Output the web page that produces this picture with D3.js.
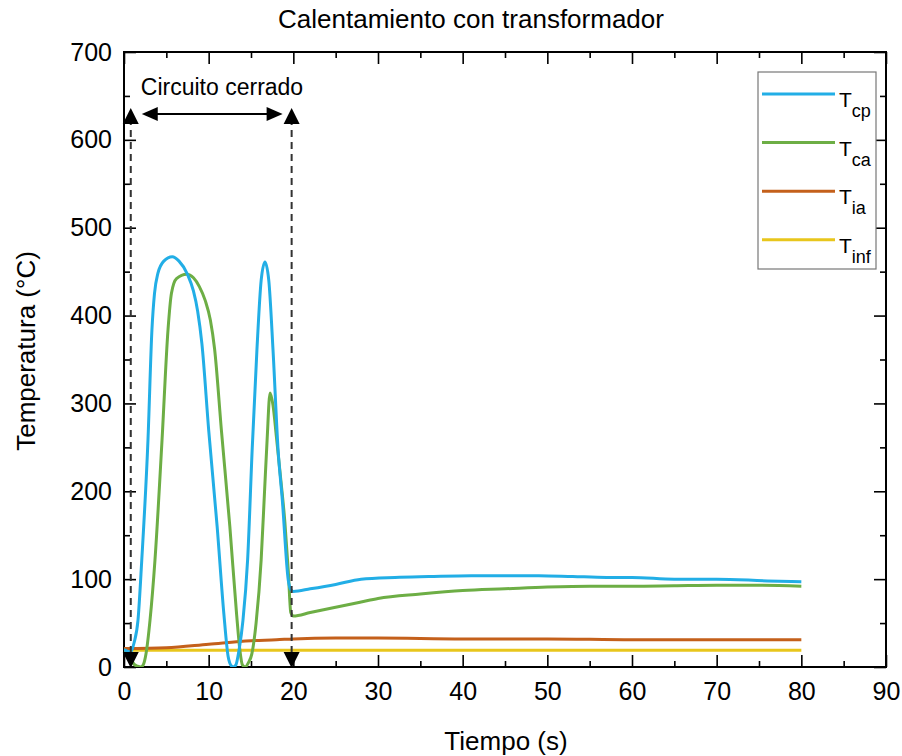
<!DOCTYPE html>
<html><head><meta charset="utf-8">
<script src="https://cdn.jsdelivr.net/npm/d3@7"></script>
<style>
html,body{margin:0;padding:0;background:#fff;}
svg text{font-family:"Liberation Sans",Arial,sans-serif;fill:#000;}
</style></head>
<body><svg id="c" width="902" height="756"></svg>
<script>
// ---- data ----
const title = "Calentamiento con transformador";
const xLabel = "Tiempo (s)";
const yLabel = "Temperatura (°C)";
const xTicks = [0,10,20,30,40,50,60,70,80,90];
const yTicks = [0,100,200,300,400,500,600,700];
const annotText = "Circuito cerrado";
const circuitStart = 0.8, circuitEnd = 19.8, arrowTemp = 625;

const tCp = [0,0.8,1.2,1.65,2.1,2.83,3.3,3.6,4.0,4.7,5.7,6.5,7.5,8.2,8.7,9.2,10.0,11.0,11.8,12.3,12.7,12.9,13.2,13.6,14.05,14.6,15.15,15.7,16.2,16.65,17.1,17.6,18.2,18.7,19.4,19.7,20,22,25,28,32,36,41,49,53,57,60,65,70,76,80];
const vCp = [20,17,28,53,122,258,384,425,448,462,467,462,447,428,405,368,270,160,60,12,1,0,2,20,53,122,250,361,440,461,440,361,247,190,99,88,86,89,94,100,102,103,104,104,103,102,102,100,100,98,97];

const tCa = [0,0.8,1.2,1.6,2.0,2.3,2.6,3.07,3.66,4.49,5.2,5.6,6.2,7.4,8.2,8.9,9.6,10.2,10.7,11.5,12.5,13.3,13.7,14.0,14.3,14.7,15.1,15.6,16.2,16.6,16.9,17.25,17.6,18.0,18.5,19.0,19.4,19.7,20,22,25,28,30,35,40,45,50,55,60,65,70,75,80];
const vCa = [20,10,3,1,0,3,15,53,122,258,384,425,442,447,443,433,417,395,362,270,160,60,18,2,0,5,15,50,122,200,258,312,298,262,215,165,110,62,58,62,68,74,78,83,87,89,91,92,92,92.5,93,93,92];

const tIa = [0,5,10,15,18,20,25,30,40,50,60,70,80];
const vIa = [21,22,26,30,31,32,33,33,32,32,31,31,31];

const tInf = [0,20,40,60,80];
const vInf = [19,19,19,19,19];

const seriesNames = ["cp","ca","ia","inf"];
const seriesColors = ["#22AEE6","#6DAE45","#C4601B","#E8C61C"];

// ---- layout ----
const svg = d3.select("#c");
const L = 124, R = 886, T = 52, B = 667;
const x = d3.scaleLinear().domain([0,90]).range([L,R]);
const y = d3.scaleLinear().domain([0,700]).range([B,T]);

const xMinor = d3.range(0,91,5).filter(v=>v%10!==0);
const yMinor = d3.range(0,701,50).filter(v=>v%100!==0);

function styleAxis(g){ g.select(".domain").remove(); g.selectAll("line").attr("stroke","#000").attr("stroke-width",1.6); }

// bottom
svg.append("g").attr("transform",`translate(0,${B})`)
  .call(d3.axisBottom(x).tickValues(xTicks).tickSize(-12).tickPadding(15).tickFormat(d3.format("d")))
  .call(styleAxis).selectAll("text").attr("font-size",25).attr("font-family","Liberation Sans, Arial");
svg.append("g").attr("transform",`translate(0,${B})`)
  .call(d3.axisBottom(x).tickValues(xMinor).tickSize(-6).tickFormat("")).call(styleAxis);
// top
svg.append("g").attr("transform",`translate(0,${T})`)
  .call(d3.axisTop(x).tickValues(xTicks).tickSize(-12).tickFormat("")).call(styleAxis);
svg.append("g").attr("transform",`translate(0,${T})`)
  .call(d3.axisTop(x).tickValues(xMinor).tickSize(-6).tickFormat("")).call(styleAxis);
// left
svg.append("g").attr("transform",`translate(${L},0)`)
  .call(d3.axisLeft(y).tickValues(yTicks).tickSize(-12).tickPadding(12).tickFormat(d3.format("d")))
  .call(styleAxis).selectAll("text").attr("font-size",25).attr("font-family","Liberation Sans, Arial");
svg.append("g").attr("transform",`translate(${L},0)`)
  .call(d3.axisLeft(y).tickValues(yMinor).tickSize(-6).tickFormat("")).call(styleAxis);
// right
svg.append("g").attr("transform",`translate(${R},0)`)
  .call(d3.axisRight(y).tickValues(yTicks).tickSize(-12).tickFormat("")).call(styleAxis);
svg.append("g").attr("transform",`translate(${R},0)`)
  .call(d3.axisRight(y).tickValues(yMinor).tickSize(-6).tickFormat("")).call(styleAxis);

// frame
svg.append("rect").attr("x",L).attr("y",T).attr("width",R-L).attr("height",B-T)
  .attr("fill","none").attr("stroke","#000").attr("stroke-width",2);

// series
svg.append("clipPath").attr("id","clp").append("rect")
  .attr("x",L).attr("y",T).attr("width",R-L).attr("height",B-T);
const line = d3.line().x(d=>x(d[0])).y(d=>y(d[1])).curve(d3.curveMonotoneX);
const data = [[tInf,vInf],[tIa,vIa],[tCa,vCa],[tCp,vCp]];
const colorIdx = [3,2,1,0];
data.forEach((s,i)=>{
  const pts = s[0].map((t,j)=>[t,s[1][j]]);
  svg.append("path").attr("d",line(pts)).attr("fill","none")
    .attr("stroke",seriesColors[colorIdx[i]]).attr("stroke-width",3)
    .attr("stroke-linejoin","round").attr("clip-path","url(#clp)");
});

// annotation: dashed lines + arrows
const ann = svg.append("g");
[circuitStart, circuitEnd].forEach(t=>{
  const xx = x(t);
  ann.append("line").attr("x1",xx).attr("x2",xx).attr("y1",y(arrowTemp)).attr("y2",B-8)
    .attr("stroke","#333").attr("stroke-width",2).attr("stroke-dasharray","7,5");
  const ty = y(arrowTemp) - 10;
  ann.append("path").attr("d",`M${xx},${ty} L${xx-8},${ty+16} L${xx+8},${ty+16} Z`).attr("fill","#000");
  ann.append("path").attr("d",`M${xx},${B+1} L${xx-8},${B-15} L${xx+8},${B-15} Z`).attr("fill","#000");
});
const ay = y(arrowTemp) - 4;
const ax1 = x(circuitStart)+11, ax2 = x(circuitEnd)-9;
ann.append("line").attr("x1",ax1+12).attr("x2",ax2-12).attr("y1",ay).attr("y2",ay)
  .attr("stroke","#000").attr("stroke-width",2);
ann.append("path").attr("d",`M${ax1},${ay} L${ax1+16},${ay-7} L${ax1+16},${ay+7} Z`).attr("fill","#000");
ann.append("path").attr("d",`M${ax2},${ay} L${ax2-16},${ay-7} L${ax2-16},${ay+7} Z`).attr("fill","#000");
ann.append("text").attr("x",222).attr("y",95)
  .attr("text-anchor","middle").attr("font-size",23).text(annotText);

// legend
const lg = svg.append("g");
lg.append("rect").attr("x",758).attr("y",72).attr("width",118).attr("height",197)
  .attr("fill","#fff").attr("stroke","#777").attr("stroke-width",1.2);
seriesNames.forEach((n,i)=>{
  const ly = 94 + i*48.6;
  lg.append("line").attr("x1",762).attr("x2",835).attr("y1",ly).attr("y2",ly)
    .attr("stroke",seriesColors[i]).attr("stroke-width",3);
  const tx = lg.append("text").attr("x",839).attr("y",ly+13).attr("font-size",21);
  tx.append("tspan").text("T");
  tx.append("tspan").attr("dy",10).attr("font-size",18).text(n);
});

// titles
svg.append("text").attr("x",471).attr("y",28).attr("text-anchor","middle").attr("font-size",26).text(title);
svg.append("text").attr("x",506).attr("y",750).attr("text-anchor","middle").attr("font-size",26).text(xLabel);
svg.append("text").attr("transform","translate(35,351) rotate(-90)").attr("text-anchor","middle").attr("font-size",26).text(yLabel);
</script></body></html>
